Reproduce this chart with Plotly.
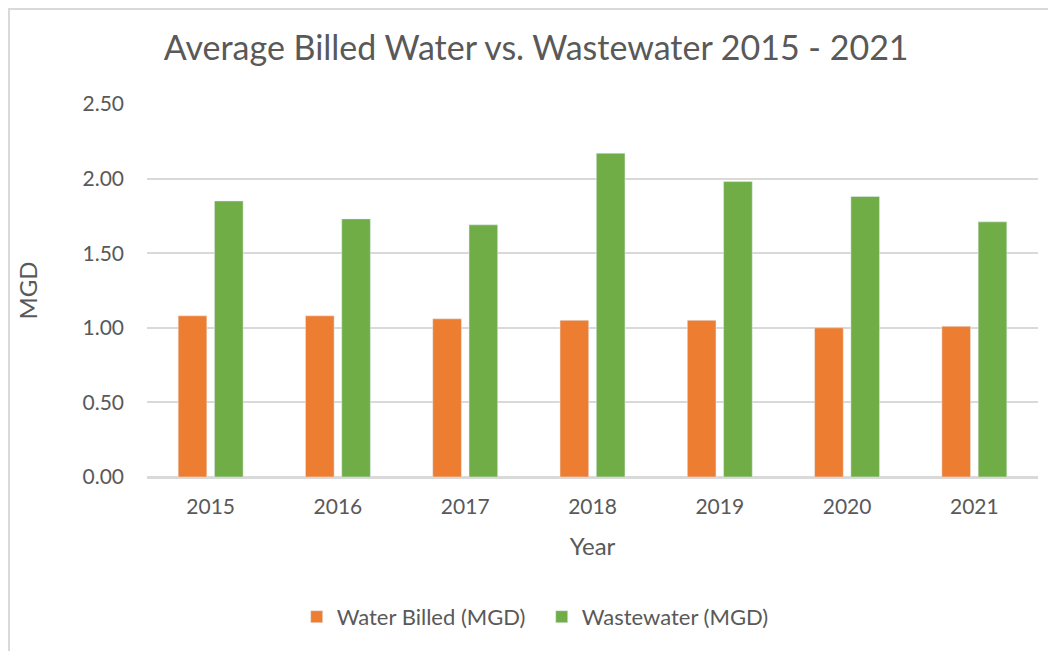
import plotly.graph_objects as go

years = ["2015", "2016", "2017", "2018", "2019", "2020", "2021"]
water_billed = [1.08, 1.08, 1.06, 1.05, 1.05, 1.00, 1.01]
wastewater = [1.85, 1.73, 1.69, 2.17, 1.98, 1.88, 1.71]
y_ticks = [0, 0.5, 1.0, 1.5, 2.0, 2.5]

text_color = "#595959"
grid_color = "#D9D9D9"
font_family = "Lato, 'Open Sans', sans-serif"

fig = go.Figure()
fig.add_trace(go.Bar(x=years, y=water_billed, name="Water Billed (MGD)", marker_color="#ED7D31"))
fig.add_trace(go.Bar(x=years, y=wastewater, name="Wastewater (MGD)", marker_color="#70AD47"))

# page body has an 8px margin, so the figure is a bit smaller and shifted
fig.update_layout(
    width=1048, height=643,
    margin=dict(l=139, r=18, t=96, b=174, autoexpand=False),
    paper_bgcolor="white", plot_bgcolor="white",
    font=dict(family=font_family, color=text_color, size=21),
    title=dict(text="Average Billed Water vs. Wastewater 2015 - 2021",
               x=0.504, xanchor="center", xref="container",
               y=1 - 40 / 643, yanchor="middle", yref="container",
               font=dict(size=34, color=text_color)),
    barmode="group", bargap=0.43, bargroupgap=0.21,
    showlegend=True,
    legend=dict(orientation="h", x=0.443, xanchor="center", y=-0.375, yanchor="middle",
                font=dict(size=22, color=text_color), itemwidth=30, entrywidth=200),
)
fig.update_xaxes(
    title=dict(text="Year", standoff=21, font=dict(size=24)),
    automargin=False,
    showgrid=False, showline=True, linecolor=grid_color, linewidth=1.5,
    ticks="", tickfont=dict(size=21), ticklabelstandoff=10,
)
fig.update_yaxes(
    title=dict(text="MGD", standoff=38, font=dict(size=24)),
    automargin=False,
    range=[0, 2.5], tickvals=y_ticks, tickformat=".2f",
    showgrid=True, gridcolor=grid_color, gridwidth=1.5,
    zeroline=True, zerolinecolor=grid_color, zerolinewidth=1.5,
    tickfont=dict(size=21), ticks="", ticklabelstandoff=22,
)
# chart frame (left and top edges visible in reference)
fig.add_shape(type="rect", xref="paper", yref="paper",
              x0=-0.1549, x1=1.2, y0=-0.7, y1=1.2547,
              line=dict(color=grid_color, width=2), layer="below")

fig.write_html("out.html")
